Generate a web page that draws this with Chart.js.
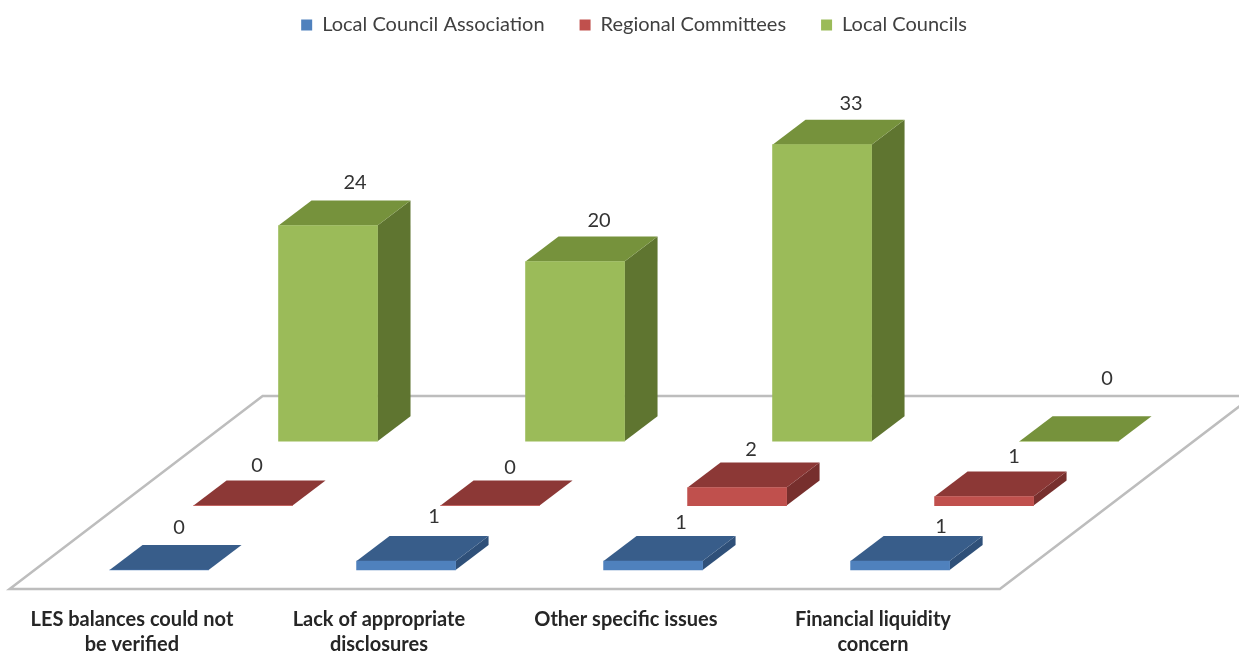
<!DOCTYPE html>
<html lang="en">
<head>
    <meta charset="UTF-8">
    <title>Local council issues</title>
    <script src="https://cdn.jsdelivr.net/npm/chart.js"></script>
    <style>
        body { margin: 0; background: #fff; }
        #wrap { width: 1239px; height: 651px; }
        canvas { filter: blur(0.5px); }
    </style>
</head>
<body>
    <div id="wrap"><canvas id="chart" width="1239" height="651"></canvas></div>

    <script>
        const categories = [
            ['LES balances could not', 'be verified'],
            ['Lack of appropriate', 'disclosures'],
            ['Other specific issues'],
            ['Financial liquidity', 'concern']
        ];
        const seriesNames = ['Local Council Association', 'Regional Committees', 'Local Councils'];
        const associationValues = [0, 1, 1, 1];
        const committeeValues = [0, 0, 2, 1];
        const councilValues = [24, 20, 33, 0];

        // Pseudo 3D: how far the top/side faces lean back, in px
        const depth = { x: 33, y: 25 };
        const floorLean = { x: 253, y: 193 };

        // Hand placed data labels in the original, px away from the default spot
        const labelNudge = [
            [[-8, 0], [0, -3], [0, 3], [13, 7]],
            [[-14, 2], [-8, 4], [-14, 4], [2, 2]],
            [[-1, -1], [-4, 1], [1, 1], [10, -21]]
        ];

        function points(values) {
            return values.map((v, i) => ({ x: i, y: v }));
        }

        function polygon(ctx, pts, fill) {
            ctx.beginPath();
            pts.forEach((p, i) => i ? ctx.lineTo(p[0], p[1]) : ctx.moveTo(p[0], p[1]));
            ctx.closePath();
            ctx.fillStyle = fill;
            ctx.fill();
        }

        const floorPlugin = {
            id: 'floor',
            beforeDatasetsDraw(chart) {
                const ctx = chart.ctx;
                const bottom = chart.chartArea.bottom;
                const left = chart.scales.xLabels.getPixelForValue(-0.495);
                const right = chart.scales.xLabels.getPixelForValue(3.514);
                ctx.save();
                ctx.beginPath();
                ctx.moveTo(left, bottom);
                ctx.lineTo(left + floorLean.x, bottom - floorLean.y);
                ctx.lineTo(right + floorLean.x, bottom - floorLean.y);
                ctx.lineTo(right, bottom);
                ctx.closePath();
                ctx.fillStyle = '#fff';
                ctx.fill();
                ctx.strokeStyle = '#bdbdbd';
                ctx.lineWidth = 2.5;
                ctx.stroke();
                ctx.restore();
            }
        };

        const boxPlugin = {
            id: 'box3d',
            beforeDatasetDraw(chart, args) {
                const ctx = chart.ctx;
                const ds = chart.data.datasets[args.index];
                chart.getDatasetMeta(args.index).data.forEach(bar => {
                    const p = bar.getProps(['x', 'y', 'base', 'width'], true);
                    const l = p.x - p.width / 2;
                    const r = p.x + p.width / 2;
                    polygon(ctx, [[r, p.y], [r + depth.x, p.y - depth.y], [r + depth.x, p.base - depth.y], [r, p.base]], ds.sideColor);
                    polygon(ctx, [[l, p.y], [l + depth.x, p.y - depth.y], [r + depth.x, p.y - depth.y], [r, p.y]], ds.topColor);
                });
            },
            afterDatasetsDraw(chart) {
                const ctx = chart.ctx;
                ctx.save();
                ctx.font = '20px Lato';
                ctx.fillStyle = '#333';
                ctx.textAlign = 'center';
                ctx.textBaseline = 'middle';
                chart.data.datasets.forEach((ds, d) => {
                    chart.getDatasetMeta(d).data.forEach((bar, i) => {
                        const p = bar.getProps(['x', 'y'], true);
                        const n = labelNudge[d][i];
                        ctx.fillText(ds.data[i].y, p.x + 28 + n[0], p.y - depth.y - 17 + n[1]);
                    });
                });
                ctx.restore();
            }
        };

        // legend sits a bit right of centre and close to the top edge
        const legendPlugin = {
            id: 'legendShift',
            beforeDraw(chart) {
                chart.legend.left = 29;
                chart.legend.top = -20;
            }
        };

        const hiddenX = (min) => ({ type: 'linear', display: false, offset: false, min: min, max: min + 5.016 });
        const hiddenY = (min) => ({ display: false, min: min, max: min + 58.3 });

        new Chart(document.getElementById('chart'), {
            type: 'bar',
            data: {
                datasets: [
                    { label: seriesNames[0], data: points(associationValues), xAxisID: 'x0', yAxisID: 'y0',
                      backgroundColor: '#4f81bd', topColor: '#385d8a', sideColor: '#2f5079', barThickness: 99 },
                    { label: seriesNames[1], data: points(committeeValues), xAxisID: 'x1', yAxisID: 'y1',
                      backgroundColor: '#c0504d', topColor: '#8c3836', sideColor: '#772f2d', barThickness: 99 },
                    { label: seriesNames[2], data: points(councilValues), xAxisID: 'x2', yAxisID: 'y2',
                      backgroundColor: '#9bbb59', topColor: '#76923c', sideColor: '#5f7530', barThickness: 99 }
                ]
            },
            options: {
                responsive: false,
                animation: false,
                grouped: false,
                layout: { padding: 0 },
                plugins: {
                    legend: {
                        position: 'top',
                        labels: {
                            boxWidth: 11,
                            boxHeight: 11,
                            padding: 35,
                            color: '#404040',
                            font: { family: 'Lato', size: 20 }
                        }
                    },
                    tooltip: { enabled: false }
                },
                scales: {
                    x0: hiddenX(-0.644),
                    x1: hiddenX(-0.984),
                    x2: hiddenX(-1.328),
                    y0: hiddenY(-2.11),
                    y1: hiddenY(-9.28),
                    y2: hiddenY(-16.44),
                    xLabels: {
                        type: 'linear',
                        position: 'bottom',
                        offset: false,
                        min: -0.534,
                        max: 4.482,
                        border: { display: false },
                        grid: { display: false },
                        afterBuildTicks(scale) {
                            scale.ticks = categories.map((c, i) => ({ value: i }));
                        },
                        afterFit(scale) {
                            scale.height = 62;
                        },
                        ticks: {
                            autoSkip: false,
                            maxRotation: 0,
                            padding: 10,
                            color: '#262626',
                            font: { family: 'Lato', size: 20, weight: 'bold', lineHeight: 1.25 },
                            callback: (value) => categories[value]
                        }
                    }
                }
            },
            plugins: [floorPlugin, boxPlugin, legendPlugin]
        });
    </script>
</body>
</html>
